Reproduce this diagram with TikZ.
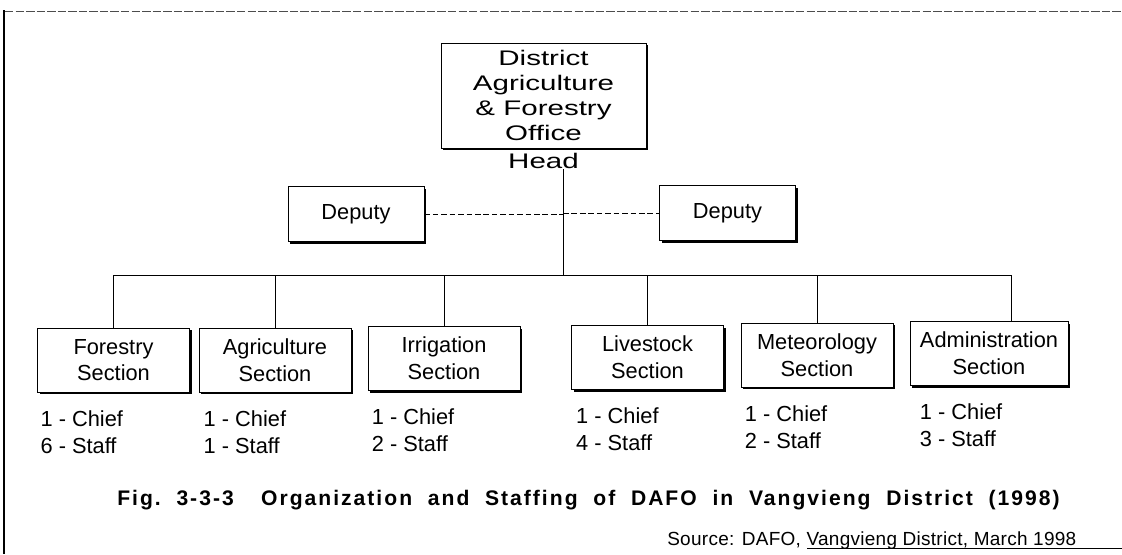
\documentclass[tikz,border=0pt]{standalone}
\usepackage{fontspec}
\setmainfont{Liberation Sans}
\newfontfamily\widefont[FakeStretch=1.4]{Liberation Sans}
\newfontfamily\capfont[LetterSpace=9.5]{Liberation Sans}
\newfontfamily\srcfont[LetterSpace=1.5]{Liberation Sans}
\usepackage{tikz}
\usetikzlibrary{positioning, shadows}

\begin{document}
\begin{tikzpicture}[
    x=0.025cm, y=-0.025cm,
    node distance=0.5cm,
    box/.style={rectangle, draw=black, line width=0.5pt, fill=white, align=center, inner sep=0pt,
        drop shadow={shadow xshift=1.6pt, shadow yshift=-1.6pt, opacity=1, fill=black},
        font=\fontsize{15.5}{19}\selectfont},
    secbox/.style={box, minimum width=3.8cm, minimum height=1.6cm},
    depbox/.style={box, minimum width=3.4cm, minimum height=1.375cm},
    staff/.style={align=left, inner sep=0pt, font=\fontsize{15.5}{19}\selectfont},
    link/.style={line width=0.6pt},
    dlink/.style={line width=0.5pt, dashed, dash pattern=on 4pt off 2pt}
]
\useasboundingbox (0,0) rectangle (1122,554);

% frame
\draw[line width=0.4pt, dashed, dash pattern=on 6pt off 1.5pt, black!70] (5,11) -- (1122,11);
\draw[line width=0.8pt] (4,10) -- (4,554);
\draw[line width=0.5pt] (807,548) -- (1122,548);

% head office
\node[box, minimum width=5.125cm, minimum height=2.625cm, font=\widefont\fontsize{15}{17.7}\selectfont]
    (dafo) at (543.5,95.5) {District\\Agriculture\\\& Forestry\\Office};
\node[inner sep=0pt, font=\widefont\fontsize{15}{18}\selectfont, below=0.12cm of dafo] (hd) {Head};

\coordinate (bus) at (563,275);

% deputies
\node[depbox] (depl) at (356,214) {Deputy};
\node[depbox] (depr) at (727.5,213) {Deputy};

% sections
\node[secbox] (fo) at (113.5,360) {Forestry\\Section};
\node[secbox] (ag) at (275,360) {Agriculture\\Section};
\node[secbox] (ir) at (444,358.5) {Irrigation\\Section};
\node[secbox] (li) at (647.5,357.5) {Livestock\\Section};
\node[secbox] (me) at (817,355) {Meteorology\\Section};
\node[secbox, minimum width=3.95cm] (ad) at (989,353.5) {Administration\\Section};

% staffing
\node[staff, below right=0.45cm and 0.08cm of fo.south west] (fost) {1 - Chief\\6 - Staff};
\node[staff, below right=0.45cm and 0.12cm of ag.south west] (agst) {1 - Chief\\1 - Staff};
\node[staff, below right=0.45cm and 0.1cm of ir.south west] (irst) {1 - Chief\\2 - Staff};
\node[staff, below right=0.45cm and 0.12cm of li.south west] (list) {1 - Chief\\4 - Staff};
\node[staff, below right=0.45cm and 0.1cm of me.south west] (mest) {1 - Chief\\2 - Staff};
\node[staff, below right=0.45cm and 0.25cm of ad.south west] (adst) {1 - Chief\\3 - Staff};

% lines
\draw[link] (hd.south -| bus) -- (bus);
\draw[dlink] (depl.east) -- (depl.east -| bus);
\draw[dlink] (depr.west -| bus) -- (depr.west);
\draw[link] (fo.north) |- (bus);
\draw[link] (ag.north) |- (bus);
\draw[link] (ir.north) |- (bus);
\draw[link] (li.north) |- (bus);
\draw[link] (me.north) |- (bus);
\draw[link] ([xshift=0.55cm]ad.north) |- (bus);

% caption and source
\node[anchor=west, inner sep=0pt, font=\capfont\bfseries\fontsize{15}{17}\selectfont] (cap) at (117,500)
    {Fig.\ \ 3-3-3\hspace{1.3em}Organization\ \ and\ \ Staffing\ \ of\ \ DAFO\ \ in\ \ Vangvieng\ \ District\ \ (1998)};
\node[anchor=west, inner sep=0pt, font=\srcfont\fontsize{13.5}{15}\selectfont] (src) at (667,541)
    {Source: DAFO, Vangvieng District, March 1998};
\end{tikzpicture}
\end{document}
